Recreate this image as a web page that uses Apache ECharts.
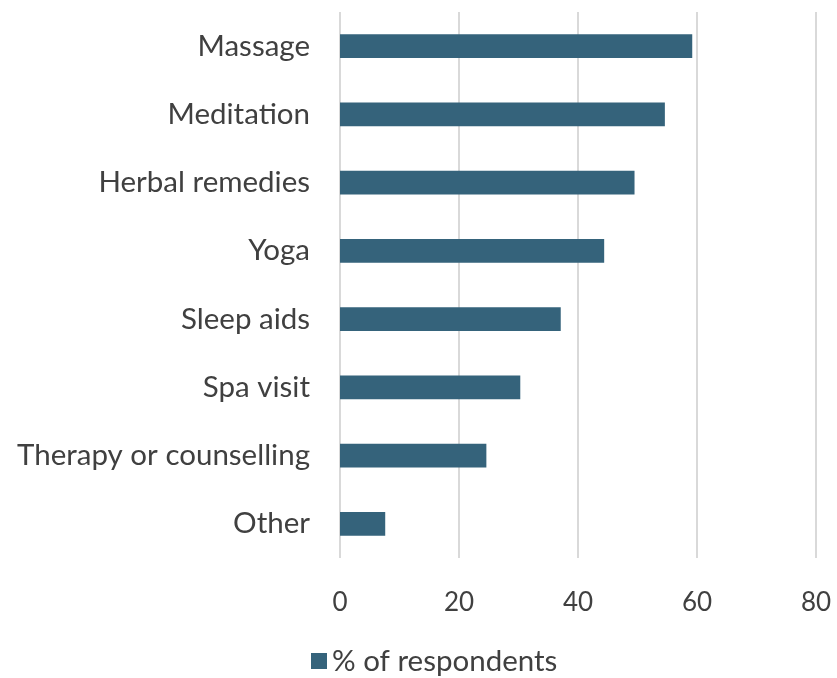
<!DOCTYPE html>
<html>
<head>
<meta charset="utf-8">
<script src="https://cdn.jsdelivr.net/npm/echarts@6/dist/echarts.min.js"></script>
<style>
  html, body { margin: 0; padding: 0; background: #fff; }
  #chart { width: 837px; height: 678px; }
</style>
</head>
<body>
<div id="chart"></div>
<script>
// Wellness activities, bottom-to-top order on the category axis
const categories = ['Other', 'Therapy or counselling', 'Spa visit', 'Sleep aids', 'Yoga', 'Herbal remedies', 'Meditation', 'Massage'];
const respondents = [7.6, 24.6, 30.3, 37.1, 44.4, 49.5, 54.6, 59.2];
const seriesName = '% of respondents';
const xTicks = [0, 20, 40, 60, 80];

const FONT = 'Lato, "Open Sans", sans-serif';
const TEXT = '#404040';
const BAR = '#35637b';

const chart = echarts.init(document.getElementById('chart'), null, { renderer: 'canvas' });
chart.setOption({
  animation: false,
  grid: { left: 340, right: 21, top: 12, bottom: 120 },
  legend: {
    top: 646,
    left: 311,
    padding: 0,
    itemWidth: 16,
    itemHeight: 16,
    itemGap: 8,
    icon: 'rect',
    textStyle: { fontFamily: FONT, fontSize: 29.5, color: TEXT },
    data: [seriesName]
  },
  xAxis: {
    type: 'value',
    min: xTicks[0],
    max: xTicks[xTicks.length - 1],
    interval: 20,
    axisLine: { show: false },
    axisTick: { show: false },
    splitLine: { show: true, lineStyle: { color: '#d9d9d9', width: 2 } },
    axisLabel: { fontFamily: FONT, fontSize: 26, color: TEXT, margin: 32 }
  },
  yAxis: {
    type: 'category',
    data: categories,
    axisLine: { show: false },
    axisTick: { show: false },
    axisLabel: { fontFamily: FONT, fontSize: 29.5, color: TEXT, margin: 30 }
  },
  series: [{
    name: seriesName,
    type: 'bar',
    data: respondents,
    barCategoryGap: '65%',
    itemStyle: { color: BAR }
  }]
});
</script>
</body>
</html>
